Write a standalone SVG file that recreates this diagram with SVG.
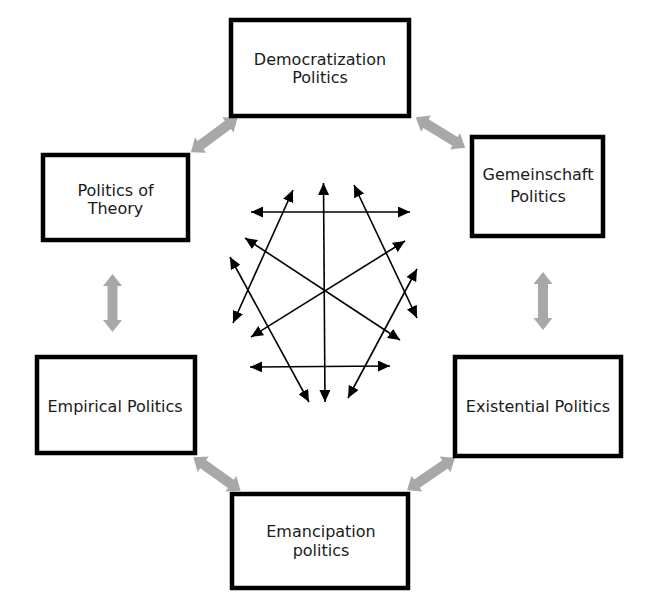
<svg xmlns="http://www.w3.org/2000/svg" width="662" height="611" viewBox="0 0 662 611">
<style>
.box{fill:#fff;stroke:#000;stroke-width:4.5}
.lbl{font-family:"DejaVu Sans",sans-serif;font-size:16px;fill:#1a1a1a;text-anchor:middle}
.gray{fill:#a8a8a8}
.ln{stroke:#000;stroke-width:1.6;fill:none;marker-start:url(#ah);marker-end:url(#ah)}
</style>
<defs>
<marker id="ah" viewBox="0 0 12 11" refX="12" refY="5.5" markerWidth="12" markerHeight="11" markerUnits="userSpaceOnUse" orient="auto-start-reverse">
<path d="M0,0 L12,5.5 L0,11 Z" fill="#000"/>
</marker>
<path id="dbl" d="M-29,0 L-17,-9.5 L-17,-5 L17,-5 L17,-9.5 L29,0 L17,9.5 L17,5 L-17,5 L-17,9.5 Z"/>
</defs>
<rect width="662" height="611" fill="#fff"/>
<g id="connectors">
<use href="#dbl" class="gray" transform="translate(214.2,135) rotate(-36.6)"/>
<use href="#dbl" class="gray" transform="translate(440.5,132.5) rotate(31.5)"/>
<use href="#dbl" class="gray" transform="translate(112.5,303) rotate(90)"/>
<use href="#dbl" class="gray" transform="translate(543,301) rotate(90)"/>
<use href="#dbl" class="gray" transform="translate(217,474) rotate(35.4)"/>
<use href="#dbl" class="gray" transform="translate(431,474) rotate(-34.2)"/>
</g>
<g id="star">
<line class="ln" x1="323.5" y1="183" x2="325" y2="402"/>
<line class="ln" x1="251" y1="212" x2="410" y2="212"/>
<line class="ln" x1="250" y1="367" x2="390" y2="366"/>
<line class="ln" x1="245" y1="238" x2="400" y2="340"/>
<line class="ln" x1="405" y1="241" x2="251" y2="337"/>
<line class="ln" x1="293" y1="190" x2="233" y2="323"/>
<line class="ln" x1="230" y1="257" x2="309" y2="402"/>
<line class="ln" x1="354" y1="185" x2="417" y2="318"/>
<line class="ln" x1="417" y1="269" x2="348" y2="398"/>
</g>
<g id="democratization">
<rect class="box" x="231" y="20" width="178" height="96"/>
<text class="lbl" x="320" y="65">Democratization</text>
<text class="lbl" x="320" y="83">Politics</text>
</g>
<g id="theory">
<rect class="box" x="43" y="155" width="145" height="85"/>
<text class="lbl" x="115.5" y="196">Politics of</text>
<text class="lbl" x="115.5" y="214">Theory</text>
</g>
<g id="gemeinschaft">
<rect class="box" x="472" y="137" width="131" height="99"/>
<text class="lbl" x="538" y="180">Gemeinschaft</text>
<text class="lbl" x="538" y="202">Politics</text>
</g>
<g id="empirical">
<rect class="box" x="37" y="357" width="158" height="96"/>
<text class="lbl" x="115" y="412">Empirical Politics</text>
</g>
<g id="existential">
<rect class="box" x="455" y="357" width="166" height="99"/>
<text class="lbl" x="538" y="412">Existential Politics</text>
</g>
<g id="emancipation">
<rect class="box" x="232" y="494" width="176" height="94"/>
<text class="lbl" x="321" y="537">Emancipation</text>
<text class="lbl" x="321" y="556">politics</text>
</g>
</svg>
